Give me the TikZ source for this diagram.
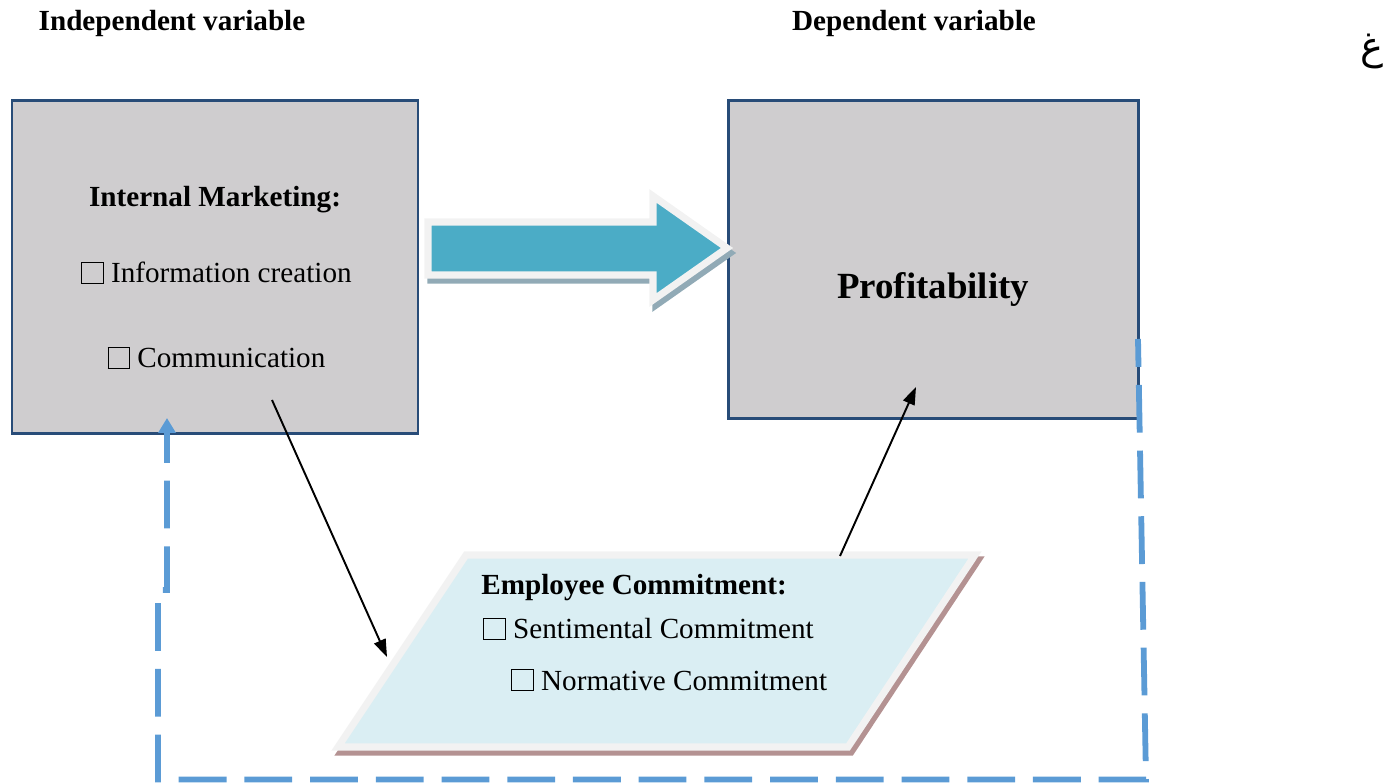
\documentclass[tikz,border=0pt]{standalone}
\usepackage{fontspec}
\setmainfont{Liberation Serif}
\newfontfamily\arabicfont[Script=Arabic]{DejaVu Sans}
\TeXXeTstate=1
\usetikzlibrary{arrows.meta, positioning}

\definecolor{boxgray}{RGB}{207,205,207}
\definecolor{boxedge}{RGB}{40,76,120}
\definecolor{arrowteal}{RGB}{75,172,198}
\definecolor{rimgray}{RGB}{242,242,242}
\definecolor{shadeblue}{RGB}{145,170,182}
\definecolor{paleblue}{RGB}{218,238,243}
\definecolor{shadebrown}{RGB}{180,146,146}
\definecolor{linkblue}{RGB}{91,155,213}

\newcommand{\sqbox}{{\setlength{\fboxsep}{0pt}\setlength{\fboxrule}{0.6pt}\fbox{\hspace{0.7em}\rule{0pt}{0.7em}}}}

\begin{document}
\begin{tikzpicture}[
  x=0.02cm, y=-0.02cm,
  every node/.style={inner sep=0pt, font=\fontsize{16.6}{20}\selectfont},
  varbox/.style={rectangle, draw=boxedge, fill=boxgray, line width=1.5pt},
  heading/.style={anchor=base, font=\fontsize{16.6}{20}\selectfont\bfseries},
  item/.style={anchor=base},
  link/.style={-{Triangle[length=10pt,width=7pt]}, line width=1.1pt},
  feedback/.style={linkblue, line width=3.3pt, dash pattern=on 27.2pt off 10.2pt, dash phase=11.3pt, -{Triangle[length=8.5pt,width=9.6pt]}}
]
\useasboundingbox (0,0) rectangle (1393,783);

% Headings
\node[heading] (indep) at (172,31) {Independent variable};
\node[heading] (dep) at (914,31) {Dependent variable};
\node[anchor=base, font=\fontsize{22}{26}\selectfont] (ghain) at (1372,60) {\arabicfont\beginR غ\endR};

% Boxes
\node[varbox, minimum width=8.12cm, minimum height=6.66cm] (im) at (215,267) {};
\node[varbox, minimum width=8.2cm, minimum height=6.36cm] (pr) at (933.5,259.5) {};

\node[heading] (imtitle) at (215,207) {Internal Marketing:};
\node[item] (iminfo) at (216.5,283) {\sqbox\ Information creation};
\node[item] (imcomm) at (216.5,368) {\sqbox\ Communication};
\node[anchor=base, font=\fontsize{21}{25}\selectfont\bfseries] (prlabel) at (933,299) {Profitability};

% Big arrow
\filldraw[shadeblue, line width=4pt, miter limit=20, shift={(3,5)}]
  (428,222) -- (653,222) -- (653,196) -- (727,248) -- (653,300) -- (653,275) -- (428,275) -- cycle;
\filldraw[draw=rimgray, fill=arrowteal, line width=4pt, miter limit=20]
  (428,222) -- (653,222) -- (653,196) -- (727,248) -- (653,300) -- (653,275) -- (428,275) -- cycle;

% Employee commitment
\filldraw[shadebrown, line width=4pt, shift={(3,5)}]
  (466,555) -- (975,555) -- (848,747) -- (338,747) -- cycle;
\filldraw[draw=rimgray, fill=paleblue, line width=4pt]
  (466,555) -- (975,555) -- (848,747) -- (338,747) -- cycle;

\node[heading, anchor=base west] (ectitle) at (481,595) {Employee Commitment:};
\node[item, anchor=base west] (ecsent) at (483,639) {\sqbox\ Sentimental Commitment};
\node[item, anchor=base west] (ecnorm) at (511,690) {\sqbox\ Normative Commitment};

% Arrows
\coordinate (cstart) at (272,400);
\coordinate (cend) at (387,657);
\coordinate (pstart) at (840,556);
\coordinate (pend) at (916,387);
\draw[link] (cstart) -- (cend);
\draw[link] (pstart) -- (pend);

\coordinate (fbstart) at (1138,339);
\coordinate (fbend) at (167,418);
\draw[feedback] (fbstart) -- (1146,779.5) -- (158,779.5) -- (158,590) -- (167,590) -- (fbend);

\end{tikzpicture}
\end{document}
